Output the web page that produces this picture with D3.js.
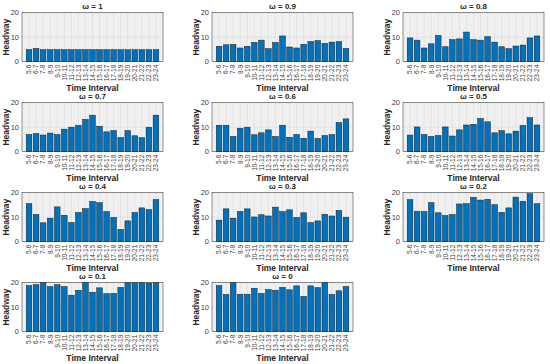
<!DOCTYPE html>
<html>
<head>
<meta charset="utf-8">
<script src="https://cdn.jsdelivr.net/npm/d3@7"></script>
<style>
  body { margin: 0; background: #fff; }
  text { font-family: "Liberation Sans", "DejaVu Sans", sans-serif; }
</style>
</head>
<body>
<script>
// time intervals shared by all panels
var intervals = ["5-6","6-7","7-8","8-9","9-10","10-11","11-12","12-13","13-14","14-15",
  "15-16","16-17","17-18","18-19","19-20","20-21","21-22","22-23","23-24"];
var yTicks = [0, 10, 20];
var omegas = ["1", "0.9", "0.8", "0.7", "0.6", "0.5", "0.4", "0.3", "0.2", "0.1", "0"];

// headway per interval, one array per omega
var w10 = [4.9,5.4,4.9,4.9,4.9,4.9,4.9,4.9,4.9,4.9,4.9,4.9,4.9,4.9,4.9,4.9,4.9,4.9,4.9];
var w09 = [6.3,6.9,7.1,5.6,6.3,7.9,8.8,5.3,7.8,10.5,6.0,5.6,7.1,8.2,8.6,7.5,8.0,8.2,5.4];
var w08 = [9.7,8.8,5.6,7.3,10.7,6.1,9.0,9.3,12.1,9.0,8.8,10.2,8.0,6.1,5.3,6.4,6.8,9.7,10.5];
var w07 = [7.0,7.4,6.8,7.6,7.0,9.2,10.0,10.7,13.2,14.9,10.4,8.1,8.6,5.8,8.6,6.5,5.7,10.0,14.9];
var w06 = [10.8,10.8,6.2,9.6,10.0,6.9,7.7,8.9,6.2,10.8,5.9,7.0,5.5,8.4,5.4,6.6,7.0,11.9,13.4];
var w05 = [6.8,10.1,7.0,6.2,6.6,10.1,6.4,8.9,10.9,11.2,13.5,12.2,7.7,8.6,7.3,8.4,10.7,13.9,10.9];
var w04 = [15.5,11.1,7.7,9.6,14.2,10.8,7.8,11.9,13.5,16.4,15.9,12.3,9.9,5.0,8.5,11.9,13.8,13.1,17.2];
var w03 = [8.8,13.4,9.6,12.3,13.4,10.1,11.0,10.5,14.1,12.3,13.0,9.9,11.8,7.8,8.5,11.2,10.5,12.8,10.0];
var w02 = [17.2,12.4,12.3,15.9,11.8,10.7,11.1,15.4,15.5,18.1,17.0,17.3,15.1,12.0,13.8,18.2,16.5,19.6,15.5];
var w01 = [18.8,19.2,20,18.4,19.2,18.4,14.9,16.9,20,16.1,17.9,15.5,15.6,18.1,20,20,20,19.9,20];
var w00 = [18.8,15.2,20,15.3,15.3,17.7,15.6,17.2,16.9,18.1,17.1,18.7,14.4,18.7,18.0,20,15.2,16.7,18.4];
var series = [w10, w09, w08, w07, w06, w05, w04, w03, w02, w01, w00];

var width = 550, height = 364;
var colLeft = [22, 212, 403];
var rowTop = [12.7, 102.7, 192.7, 282.7];
var pw = 141, ph = 49;

var svg = d3.select("body").append("svg")
  .attr("width", width)
  .attr("height", height);

var x = d3.scaleLinear().domain([0, intervals.length + 1]).range([0, pw]);
var y = d3.scaleLinear().domain([0, 20]).range([ph, 0]);

series.forEach(function(vals, k) {
  var g = svg.append("g")
    .attr("transform", "translate(" + colLeft[k % 3] + "," + rowTop[Math.floor(k / 3)] + ")");

  g.append("rect")
    .attr("width", pw).attr("height", ph)
    .attr("fill", "#f0f0f0");

  // grid
  g.selectAll(".vg").data(intervals).enter().append("line")
    .attr("x1", function(d, i) { return x(i + 1); })
    .attr("x2", function(d, i) { return x(i + 1); })
    .attr("y1", 0).attr("y2", ph)
    .attr("stroke", "#d6d6d6").attr("stroke-width", 0.5);
  g.selectAll(".hg").data(yTicks).enter().append("line")
    .attr("x1", 0).attr("x2", pw)
    .attr("y1", function(d) { return y(d); })
    .attr("y2", function(d) { return y(d); })
    .attr("stroke", "#d6d6d6").attr("stroke-width", 0.5);

  // bars
  var bw = x(0.8) - x(0);
  g.selectAll(".bar").data(vals).enter().append("rect")
    .attr("x", function(d, i) { return x(i + 1) - bw / 2; })
    .attr("y", function(d) { return y(d); })
    .attr("width", bw)
    .attr("height", function(d) { return ph - y(d); })
    .attr("fill", "#0072BD")
    .attr("stroke", "#1a1a1a")
    .attr("stroke-width", 0.5);

  // box
  g.append("rect")
    .attr("width", pw).attr("height", ph)
    .attr("fill", "none")
    .attr("stroke", "#262626").attr("stroke-width", 0.5);

  // y ticks
  g.selectAll(".yt").data(yTicks).enter().append("text")
    .attr("x", -3)
    .attr("y", function(d) { return y(d); })
    .attr("dy", "0.35em")
    .attr("text-anchor", "end")
    .attr("font-size", 7.5)
    .attr("fill", "#404040")
    .text(function(d) { return d; });

  // x ticks
  g.selectAll(".xt").data(intervals).enter().append("text")
    .attr("transform", function(d, i) {
      return "translate(" + (x(i + 1) + 2.3) + "," + (ph + 3) + ") rotate(-90)";
    })
    .attr("text-anchor", "end")
    .attr("font-size", 6.5)
    .attr("fill", "#404040")
    .text(function(d) { return d; });

  g.append("text")
    .attr("x", pw / 2).attr("y", -3.5)
    .attr("text-anchor", "middle")
    .attr("font-size", 8)
    .attr("font-weight", "bold")
    .attr("fill", "#262626")
    .text("\u03c9 = " + omegas[k]);

  g.append("text")
    .attr("transform", "translate(-13," + (ph / 2) + ") rotate(-90)")
    .attr("text-anchor", "middle")
    .attr("font-size", 8.5)
    .attr("font-weight", "bold")
    .attr("fill", "#262626")
    .text("Headway");

  g.append("text")
    .attr("x", pw / 2).attr("y", ph + 29)
    .attr("text-anchor", "middle")
    .attr("font-size", 8.5)
    .attr("font-weight", "bold")
    .attr("fill", "#262626")
    .text("Time Interval");
});
</script>
</body>
</html>
